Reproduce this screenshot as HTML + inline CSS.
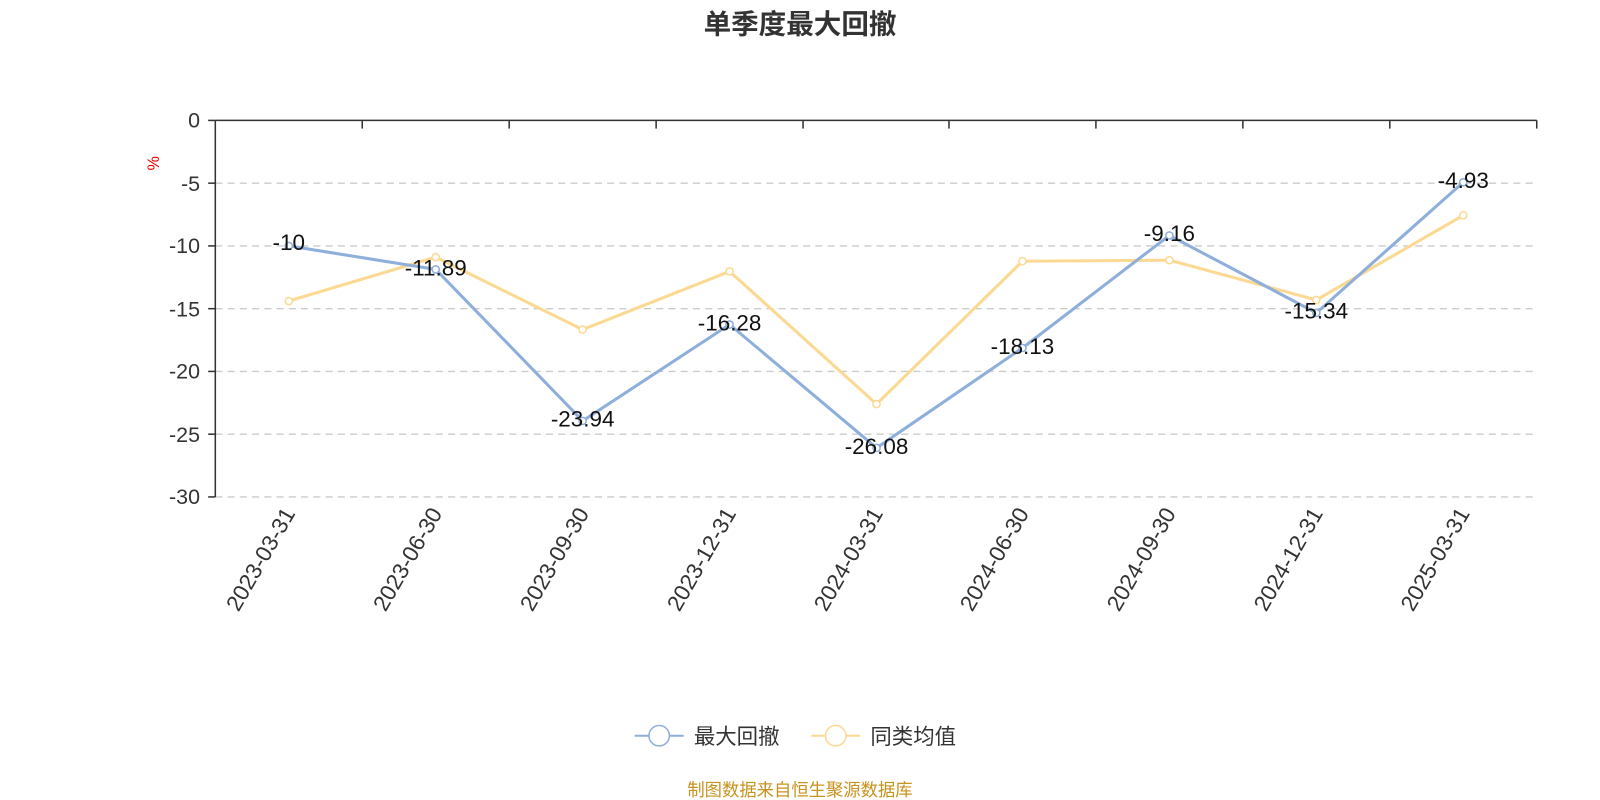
<!DOCTYPE html>
<html><head><meta charset="utf-8"><style>
html,body{margin:0;padding:0;background:#fff;}
svg{display:block;}
svg text{font-family:"Liberation Sans","Noto Sans CJK SC",sans-serif;}
</style></head><body>
<svg width="1600" height="800" viewBox="0 0 1568 784" xmlns="http://www.w3.org/2000/svg">
<text x="784" y="33" text-anchor="middle" font-size="27" font-weight="bold" fill="#333">单季度最大回撤</text>
<text x="156" y="160" font-size="16" fill="#e00" transform="rotate(-90 156 160)" text-anchor="middle">%</text>
<g stroke="#ccc" stroke-width="1.3" stroke-dasharray="7,5">
<line x1="211" y1="179.5" x2="1506" y2="179.5"/>
<line x1="211" y1="241" x2="1506" y2="241"/>
<line x1="211" y1="302.5" x2="1506" y2="302.5"/>
<line x1="211" y1="364" x2="1506" y2="364"/>
<line x1="211" y1="425.5" x2="1506" y2="425.5"/>
<line x1="211" y1="487" x2="1506" y2="487"/>
</g>
<g stroke="#333" stroke-width="1.5">
<line x1="211" y1="118" x2="1506" y2="118"/>
<line x1="211" y1="118" x2="211" y2="487"/>
<line x1="204" y1="118" x2="211" y2="118"/><line x1="204" y1="179.5" x2="211" y2="179.5"/><line x1="204" y1="241" x2="211" y2="241"/><line x1="204" y1="302.5" x2="211" y2="302.5"/><line x1="204" y1="364" x2="211" y2="364"/><line x1="204" y1="425.5" x2="211" y2="425.5"/><line x1="204" y1="487" x2="211" y2="487"/>
<line x1="355" y1="118" x2="355" y2="126"/><line x1="499" y1="118" x2="499" y2="126"/><line x1="643" y1="118" x2="643" y2="126"/><line x1="787" y1="118" x2="787" y2="126"/><line x1="930" y1="118" x2="930" y2="126"/><line x1="1074" y1="118" x2="1074" y2="126"/><line x1="1218" y1="118" x2="1218" y2="126"/><line x1="1362" y1="118" x2="1362" y2="126"/><line x1="1506" y1="118" x2="1506" y2="126"/>
</g>
<g font-size="21" fill="#333" text-anchor="end">
<text x="196" y="125">0</text><text x="196" y="187">-5</text><text x="196" y="248">-10</text><text x="196" y="310">-15</text><text x="196" y="371">-20</text><text x="196" y="433">-25</text><text x="196" y="494">-30</text>
</g>
<g font-size="22" fill="#333" text-anchor="end">
<text transform="translate(290 503) rotate(-60)">2023-03-31</text>
<text transform="translate(434 503) rotate(-60)">2023-06-30</text>
<text transform="translate(578 503) rotate(-60)">2023-09-30</text>
<text transform="translate(722 503) rotate(-60)">2023-12-31</text>
<text transform="translate(866 503) rotate(-60)">2024-03-31</text>
<text transform="translate(1009 503) rotate(-60)">2024-06-30</text>
<text transform="translate(1153 503) rotate(-60)">2024-09-30</text>
<text transform="translate(1297 503) rotate(-60)">2024-12-31</text>
<text transform="translate(1441 503) rotate(-60)">2025-03-31</text>
</g>
<polyline fill="none" stroke="#fcd993" stroke-width="3" points="283,295 427,252 571,323 715,266 859,396 1002,256 1146,255 1290,294 1434,211"/>
<g fill="#fff" stroke="#fcd993" stroke-width="1.5">
<circle cx="283" cy="295" r="3.5"/><circle cx="427" cy="252" r="3.5"/><circle cx="571" cy="323" r="3.5"/><circle cx="715" cy="266" r="3.5"/><circle cx="859" cy="396" r="3.5"/><circle cx="1002" cy="256" r="3.5"/><circle cx="1146" cy="255" r="3.5"/><circle cx="1290" cy="294" r="3.5"/><circle cx="1434" cy="211" r="3.5"/>
</g>
<polyline fill="none" stroke="#8eaedb" stroke-width="3" points="283,241 427,264 571,412.5 715,318 859,439 1002,341 1146,230.7 1290,306.7 1434,178.6"/>
<g fill="#fff" stroke="#8eaedb" stroke-width="1.5">
<circle cx="283" cy="241" r="3.5"/><circle cx="427" cy="264" r="3.5"/><circle cx="571" cy="412.5" r="3.5"/><circle cx="715" cy="318" r="3.5"/><circle cx="859" cy="439" r="3.5"/><circle cx="1002" cy="341" r="3.5"/><circle cx="1146" cy="230.7" r="3.5"/><circle cx="1290" cy="306.7" r="3.5"/><circle cx="1434" cy="178.6" r="3.5"/>
</g>
<g font-size="22" fill="#111" text-anchor="middle">
<text x="283" y="245">-10</text><text x="427" y="270">-11.89</text><text x="571" y="418">-23.94</text><text x="715" y="324">-16.28</text><text x="859" y="445">-26.08</text><text x="1002" y="347">-18.13</text><text x="1146" y="236">-9.16</text><text x="1290" y="312">-15.34</text><text x="1434" y="184">-4.93</text>
</g>
<line x1="622" y1="721" x2="670" y2="721" stroke="#8eaedb" stroke-width="2"/>
<circle cx="646" cy="721" r="10" fill="#fff" stroke="#8eaedb" stroke-width="1.5"/>
<text x="680" y="729" font-size="21" fill="#333">最大回撤</text>
<line x1="795" y1="721" x2="843" y2="721" stroke="#fcd993" stroke-width="2"/>
<circle cx="819" cy="721" r="10" fill="#fff" stroke="#fcd993" stroke-width="1.5"/>
<text x="853" y="729" font-size="21" fill="#333">同类均值</text>
<text x="784" y="780" font-size="17" fill="#c8921e" text-anchor="middle">制图数据来自恒生聚源数据库</text>
</svg>
</body></html>
